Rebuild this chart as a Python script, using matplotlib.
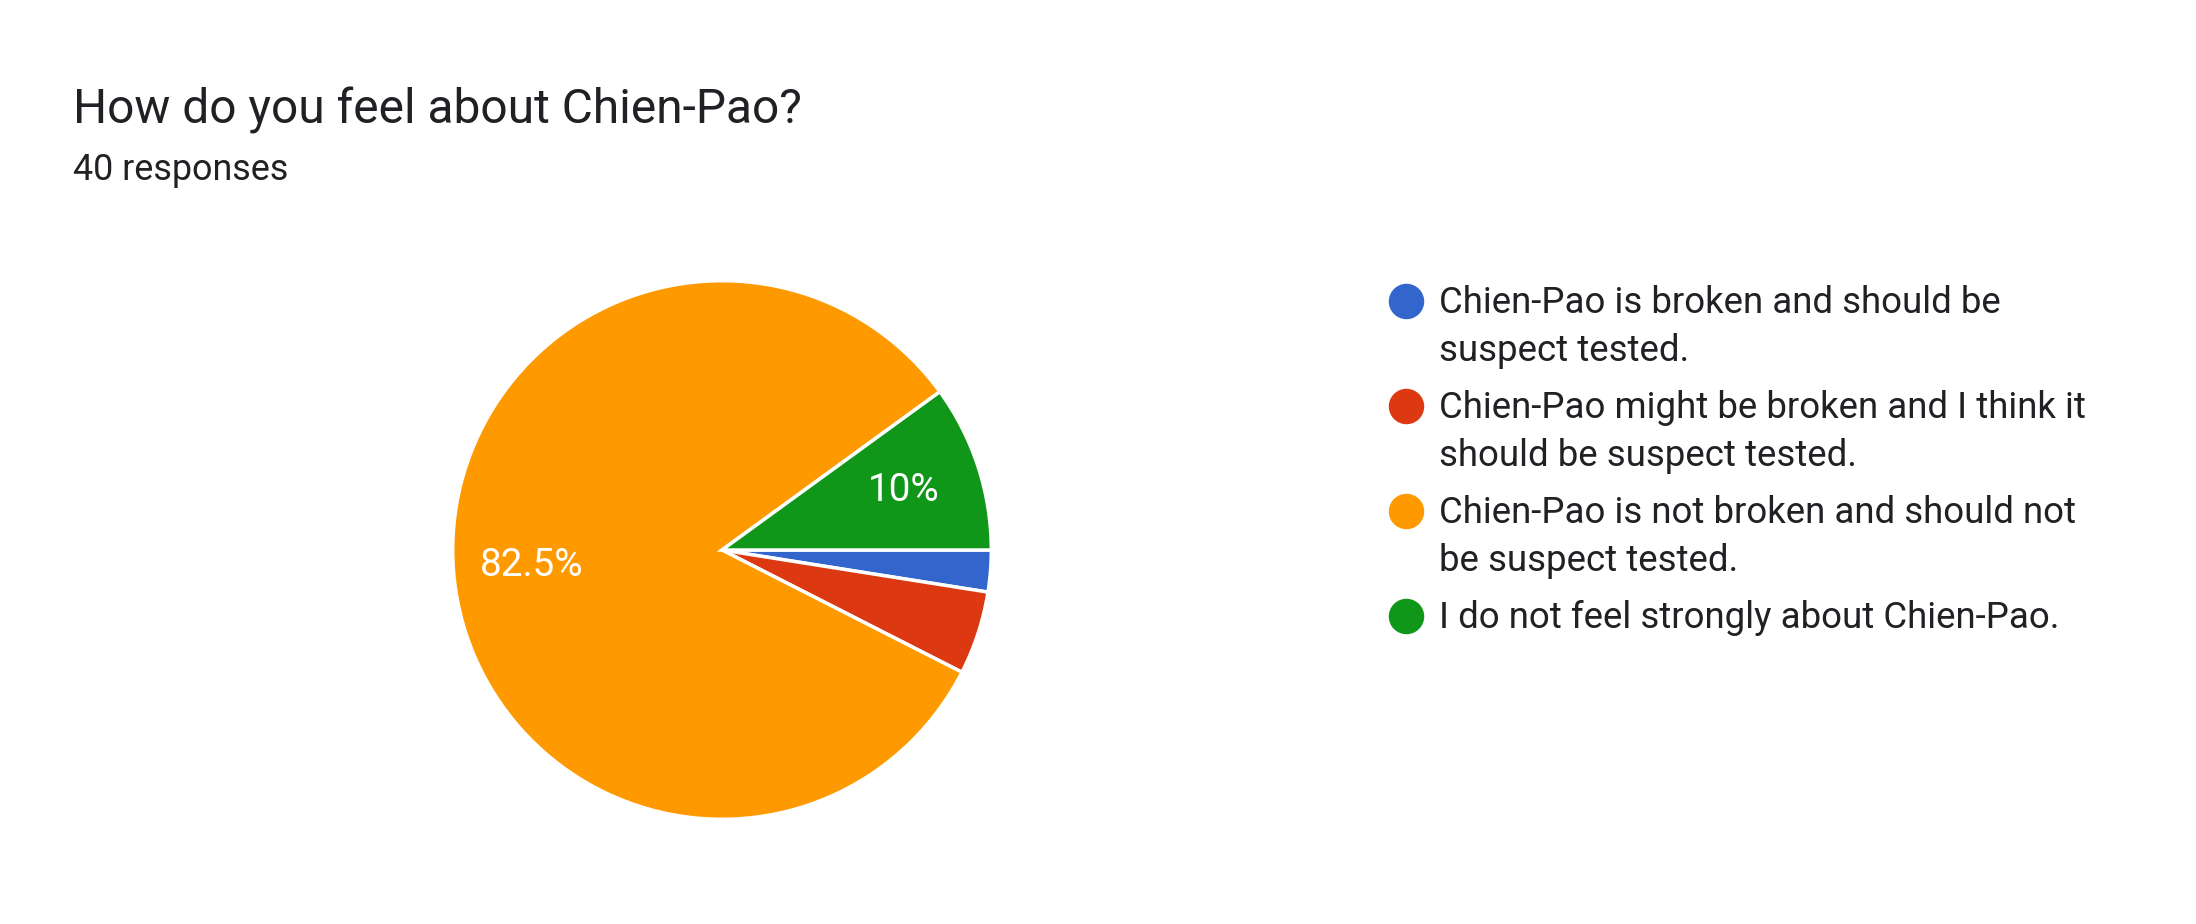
import matplotlib.pyplot as plt

plt.rcParams['font.family'] = ['Roboto', 'DejaVu Sans']

# survey data
title = "How do you feel about Chien-Pao?"
subtitle = "40 responses"
answers = [
    "Chien-Pao is broken and should be\nsuspect tested.",
    "Chien-Pao might be broken and I think it\nshould be suspect tested.",
    "Chien-Pao is not broken and should not\nbe suspect tested.",
    "I do not feel strongly about Chien-Pao.",
]
counts = [1, 2, 33, 4]
colors = ["#3366CC", "#DC3912", "#FF9900", "#109618"]

W, H = 2196, 924
fig = plt.figure(figsize=(W / 100, H / 100), dpi=100)

# overlay for text and legend, in pixel coords
lax = fig.add_axes([0, 0, 1, 1])
lax.set_xlim(0, W)
lax.set_ylim(H, 0)
lax.axis("off")

lax.text(73, 123, title, fontsize=34.5, color="#202124", va="baseline")
lax.text(73, 180, subtitle, fontsize=25.8, color="#202124", va="baseline")

# pie
cx, cy, r = 722, 550, 272
ax = fig.add_axes([(cx - r) / W, (H - cy - r) / H, 2 * r / W, 2 * r / H])


def pct(p):
    return f"{p:g}%" if p >= 8 else ""


wedges, _, autotexts = ax.pie(counts, colors=colors, startangle=0, counterclock=False,
                              autopct=lambda p: pct(round(p, 1)), pctdistance=0.71,
                              wedgeprops=dict(edgecolor="white", linewidth=2.5),
                              textprops=dict(color="white", fontsize=27.8))
ax.set_xlim(-1.01, 1.01)
ax.set_ylim(-1.01, 1.01)
ax.set_aspect("equal")

# legend
y = 301
for lab, col in zip(answers, colors):
    lax.scatter([1406], [y], s=34 ** 2 * 0.52, color=col, zorder=3)
    lax.text(1439, y - 16, lab, fontsize=26.4, color="#202124", va="top",
             linespacing=1.42)
    y += 45 * (lab.count("\n") + 1) + 15

fig.savefig("out.png", dpi=100, facecolor="white")
